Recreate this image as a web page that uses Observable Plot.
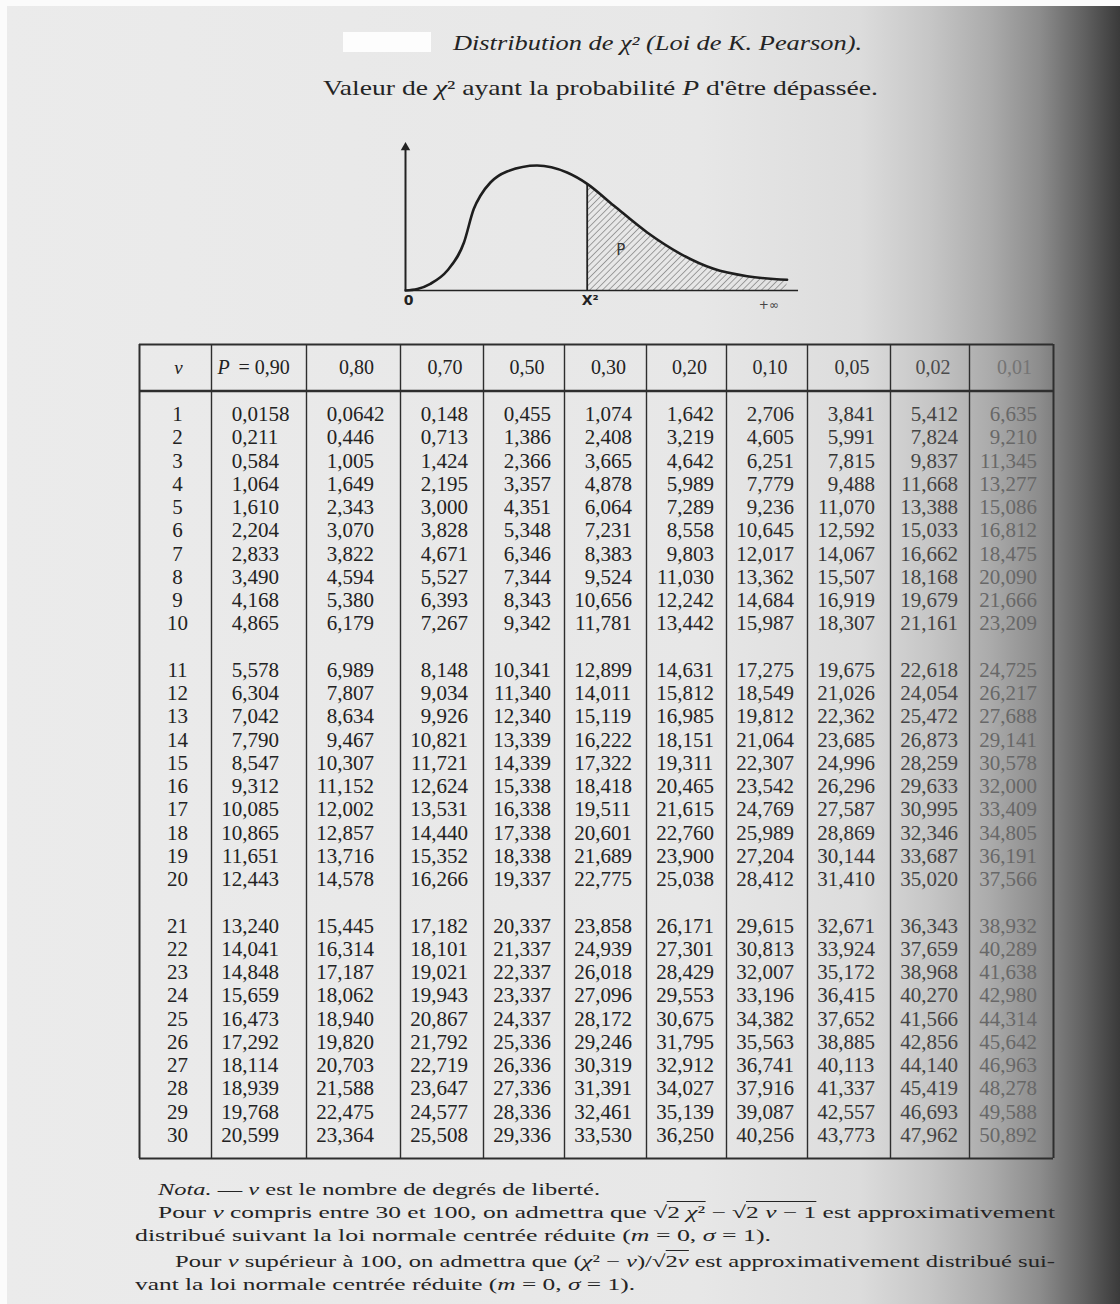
<!DOCTYPE html>
<html><head><meta charset="utf-8">
<script src="https://cdn.jsdelivr.net/npm/d3@7"></script>
<script src="https://cdn.jsdelivr.net/npm/@observablehq/plot@0.6"></script>
<style>
html,body{margin:0;padding:0}
body{width:1120px;height:1304px;position:relative;overflow:hidden;
 background:linear-gradient(to right,#ebebeb 0px,#e7e7e7 700px,#dcdcdc 860px,#c6c6c6 930px,#ababab 990px,#8c8c8c 1040px,#606060 1085px,#3a3a3a 1120px);
 font-family:"Liberation Serif","DejaVu Serif",serif;color:#242424}
.abs{position:absolute;white-space:nowrap;display:inline-block;transform-origin:0 50%}
.ov{border-top:1.2px solid #242424;padding-top:1px}
#edgeTop{position:absolute;left:0;top:0;width:1120px;height:6px;background:#fbfbfb}
#edgeLeft{position:absolute;left:0;top:0;width:7px;height:1304px;background:#fbfbfb}
#patch{position:absolute;left:343px;top:32px;width:88px;height:20px;background:#fdfdfd}
#fig,#tab{position:absolute}
#fig{left:380px;top:130px}
#tab{left:0;top:330px}
</style></head><body>
<div id="edgeTop"></div><div id="edgeLeft"></div><div id="patch"></div>
<div class="abs" data-w="409" style="left:453px;top:31px;font-size:20px;line-height:24px;font-style:italic">Distribution de χ² (Loi de K. Pearson).</div>
<div class="abs" data-w="555" style="left:323px;top:75px;font-size:21px;line-height:26px">Valeur de <i>χ</i>² ayant la probabilité <i>P</i> d'être dépassée.</div>
<div id="fig"></div>
<div id="tab"></div>
<div class="abs" data-w="442" style="left:158px;top:1179px;font-size:17px;line-height:22px"><i>Nota.</i> — <i>ν</i> est le nombre de degrés de liberté.</div>
<div class="abs" data-w="897" style="left:158px;top:1202px;font-size:17px;line-height:22px">Pour <i>ν</i> compris entre 30 et 100, on admettra que √<span class="ov">2 <i>χ</i>²</span> − √<span class="ov">2 <i>ν</i> − 1</span> est approximativement</div>
<div class="abs" data-w="636" style="left:135px;top:1225px;font-size:17px;line-height:22px">distribué suivant la loi normale centrée réduite (<i>m</i> = 0, <i>σ</i> = 1).</div>
<div class="abs" data-w="880" style="left:175px;top:1251px;font-size:17px;line-height:22px">Pour <i>ν</i> supérieur à 100, on admettra que (<i>χ</i>² − <i>ν</i>)/√<span class="ov">2<i>ν</i></span> est approximativement distribué sui-</div>
<div class="abs" data-w="500" style="left:135px;top:1274px;font-size:17px;line-height:22px">vant la loi normale centrée réduite (<i>m</i> = 0, <i>σ</i> = 1).</div>
<script>
// ---------- data ----------
const nu = [1,2,3,4,5,6,7,8,9,10,11,12,13,14,15,16,17,18,19,20,21,22,23,24,25,26,27,28,29,30];
const pValues = [0.90,0.80,0.70,0.50,0.30,0.20,0.10,0.05,0.02,0.01];
const chi2_p90 = [0.0158,0.211,0.584,1.064,1.610,2.204,2.833,3.490,4.168,4.865,5.578,6.304,7.042,7.790,8.547,9.312,10.085,10.865,11.651,12.443,13.240,14.041,14.848,15.659,16.473,17.292,18.114,18.939,19.768,20.599];
const chi2_p80 = [0.0642,0.446,1.005,1.649,2.343,3.070,3.822,4.594,5.380,6.179,6.989,7.807,8.634,9.467,10.307,11.152,12.002,12.857,13.716,14.578,15.445,16.314,17.187,18.062,18.940,19.820,20.703,21.588,22.475,23.364];
const chi2_p70 = [0.148,0.713,1.424,2.195,3.000,3.828,4.671,5.527,6.393,7.267,8.148,9.034,9.926,10.821,11.721,12.624,13.531,14.440,15.352,16.266,17.182,18.101,19.021,19.943,20.867,21.792,22.719,23.647,24.577,25.508];
const chi2_p50 = [0.455,1.386,2.366,3.357,4.351,5.348,6.346,7.344,8.343,9.342,10.341,11.340,12.340,13.339,14.339,15.338,16.338,17.338,18.338,19.337,20.337,21.337,22.337,23.337,24.337,25.336,26.336,27.336,28.336,29.336];
const chi2_p30 = [1.074,2.408,3.665,4.878,6.064,7.231,8.383,9.524,10.656,11.781,12.899,14.011,15.119,16.222,17.322,18.418,19.511,20.601,21.689,22.775,23.858,24.939,26.018,27.096,28.172,29.246,30.319,31.391,32.461,33.530];
const chi2_p20 = [1.642,3.219,4.642,5.989,7.289,8.558,9.803,11.030,12.242,13.442,14.631,15.812,16.985,18.151,19.311,20.465,21.615,22.760,23.900,25.038,26.171,27.301,28.429,29.553,30.675,31.795,32.912,34.027,35.139,36.250];
const chi2_p10 = [2.706,4.605,6.251,7.779,9.236,10.645,12.017,13.362,14.684,15.987,17.275,18.549,19.812,21.064,22.307,23.542,24.769,25.989,27.204,28.412,29.615,30.813,32.007,33.196,34.382,35.563,36.741,37.916,39.087,40.256];
const chi2_p05 = [3.841,5.991,7.815,9.488,11.070,12.592,14.067,15.507,16.919,18.307,19.675,21.026,22.362,23.685,24.996,26.296,27.587,28.869,30.144,31.410,32.671,33.924,35.172,36.415,37.652,38.885,40.113,41.337,42.557,43.773];
const chi2_p02 = [5.412,7.824,9.837,11.668,13.388,15.033,16.662,18.168,19.679,21.161,22.618,24.054,25.472,26.873,28.259,29.633,30.995,32.346,33.687,35.020,36.343,37.659,38.968,40.270,41.566,42.856,44.140,45.419,46.693,47.962];
const chi2_p01 = [6.635,9.210,11.345,13.277,15.086,16.812,18.475,20.090,21.666,23.209,24.725,26.217,27.688,29.141,30.578,32.000,33.409,34.805,36.191,37.566,38.932,40.289,41.638,42.980,44.314,45.642,46.963,48.278,49.588,50.892];

// sketch curve of the density, abscissa 0..100
const curveT = [0, 3, 6.3, 10.6, 14.8, 17.3, 19, 21.5, 25.7, 33.3, 40.9, 46, 52.7, 61.2, 69.6, 78, 86.5, 96.6];
const curveH = [0, 1.5, 6.7, 20, 48, 81.7, 95, 108, 119, 125, 118, 106.7, 85, 58, 36.7, 21.7, 14.3, 10.7];
const chi2Mark = 46;
const figLabels = ["0", "X²", "+∞", "P"];

// ---------- layout / style ----------
const colEdges = [139, 211, 306, 400, 483, 564, 646, 726, 807, 890, 969, 1053];
const textColors = ["#222","#222","#222","#222","#222","#222","#242424","#2a2a2a","#333","#444","#676767"];
const headColors = ["#222","#222","#222","#222","#222","#222","#242424","#2a2a2a","#333","#4c4c4c","#747474"];
const slot = n => (n - 1) + Math.floor((n - 1) / 10);
const fmt = v => (v < 0.1 ? v.toFixed(4) : v.toFixed(3)).replace(".", ",");
const fmtP = p => p.toFixed(2).replace(".", ",");

const columns = [chi2_p90, chi2_p80, chi2_p70, chi2_p50, chi2_p30, chi2_p20, chi2_p10, chi2_p05, chi2_p02, chi2_p01];
const cells = columns.flatMap((vals, c) => vals.map((v, i) => ({col: c + 1, nu: nu[i], v})));
const heads = pValues.map((p, c) => ({col: c + 1, p}));
const lineC = "#2e2e2e";
const last = colEdges.length - 1;

const tab = Plot.plot({
  width: 1120, height: 840, margin: 0,
  style: {background: "transparent", fontFamily: "'Liberation Serif', serif", fontSize: "21px"},
  x: {type: "linear", domain: d3.range(colEdges.length), range: colEdges, axis: null},
  y: {type: "linear", domain: [-3, 32], range: [14, 828], axis: null},
  color: {type: "identity"},
  marks: [
    Plot.ruleX(d3.range(1, last), {y1: -3, y2: 32, stroke: lineC, strokeWidth: 1.4}),
    Plot.ruleX([0, last], {y1: -3, y2: 32, stroke: lineC, strokeWidth: 2}),
    Plot.ruleY([-3, 32], {x1: 0, x2: last, stroke: lineC, strokeWidth: 2.2}),
    Plot.ruleY([-1], {x1: 0, x2: last, stroke: lineC, strokeWidth: 2.4}),
    // header
    Plot.text(["ν"], {x: 0.5, y: -2, text: d => d, fontStyle: "italic", fontSize: 19, fill: headColors[0], dx: 3}),
    Plot.text(heads.filter(d => d.col > 1), {x: d => d.col + 0.5, y: -2, text: d => fmtP(d.p), fill: d => headColors[d.col], fontSize: 20, dx: 3, style: {letterSpacing: "0.8px"}}),
    Plot.text(heads.filter(d => d.col === 1), {x: d => d.col, y: -2, text: () => "P", fontStyle: "italic", textAnchor: "start", dx: 6, fontSize: 20, fill: headColors[1]}),
    Plot.text(heads.filter(d => d.col === 1), {x: d => d.col, y: -2, text: d => "= " + fmtP(d.p), textAnchor: "start", dx: 27, fontSize: 20, fill: headColors[1], style: {letterSpacing: "0.6px"}}),
    // nu
    Plot.text(nu, {x: 0.5, y: d => slot(d), text: d => String(d), fill: textColors[0], dx: 2}),
    // values: decimal aligned
    Plot.text(cells, {x: d => d.col, y: d => slot(d.nu), text: d => fmt(d.v).split(",")[0] + ",", textAnchor: "end", dx: 36, fill: d => textColors[d.col], style: {letterSpacing: "0.4px"}}),
    Plot.text(cells, {x: d => d.col, y: d => slot(d.nu), text: d => fmt(d.v).split(",")[1], textAnchor: "start", dx: 36, fill: d => textColors[d.col], style: {letterSpacing: "0.4px"}})
  ]
});
document.getElementById("tab").appendChild(tab);

// ---------- figure ----------
const curve = curveT.map((t, i) => ({t, h: curveH[i]}));
const tail = curve.filter(d => d.t >= chi2Mark);
const chi2H = curve.find(d => d.t === chi2Mark).h;
const fig = Plot.plot({
  width: 440, height: 190, margin: 0,
  style: {background: "transparent", fontFamily: "'DejaVu Sans', sans-serif"},
  x: {type: "linear", domain: [0, 100], range: [25, 420], axis: null},
  y: {type: "linear", domain: [0, 125], range: [160, 35], axis: null},
  marks: [
    Plot.areaY(tail, {x: "t", y: "h", curve: "monotone-x", fill: "url(#hatch)"}),
    Plot.ruleY([0], {x1: 0, x2: 99.5, stroke: "#222", strokeWidth: 1.6}),
    Plot.ruleX([0], {y1: 0, y2: 144, stroke: "#222", strokeWidth: 2}),
    Plot.dot([0], {x: 0, y: 143, symbol: "triangle", r: 3.5, fill: "#222"}),
    Plot.ruleX([chi2Mark], {y1: 0, y2: chi2H, stroke: "#222", strokeWidth: 1.8}),
    Plot.line(curve, {x: "t", y: "h", curve: "monotone-x", stroke: "#1e1e1e", strokeWidth: 2.6}),
    Plot.text([figLabels[0]], {x: 0.8, y: 0, dy: 10, text: d => d, fontSize: 14, fontWeight: "bold", fill: "#222"}),
    Plot.text([figLabels[1]], {x: chi2Mark, y: 0, dy: 10, dx: 3, text: d => d, fontSize: 14, fontWeight: "bold", fill: "#222"}),
    Plot.text([figLabels[2]], {x: 92, y: 0, dy: 15, text: d => d, fontSize: 12, fill: "#444"}),
    Plot.text([figLabels[3]], {x: 54.5, y: 40, text: d => d, fontSize: 15, fill: "#333"})
  ]
});
const ns = "http://www.w3.org/2000/svg";
const defs = document.createElementNS(ns, "defs");
defs.innerHTML = '<pattern id="hatch" width="4.5" height="4.5" patternUnits="userSpaceOnUse" patternTransform="rotate(45)"><line x1="0" y1="0" x2="0" y2="4.5" stroke="#555" stroke-width="1"/></pattern>';
fig.insertBefore(defs, fig.firstChild);
document.getElementById("fig").appendChild(fig);

// fit text widths to the reference page
document.querySelectorAll("[data-w]").forEach(el => {
  const w = el.getBoundingClientRect().width;
  if (w > 0) el.style.transform = `scaleX(${(+el.dataset.w) / w})`;
});
</script>
</body></html>
